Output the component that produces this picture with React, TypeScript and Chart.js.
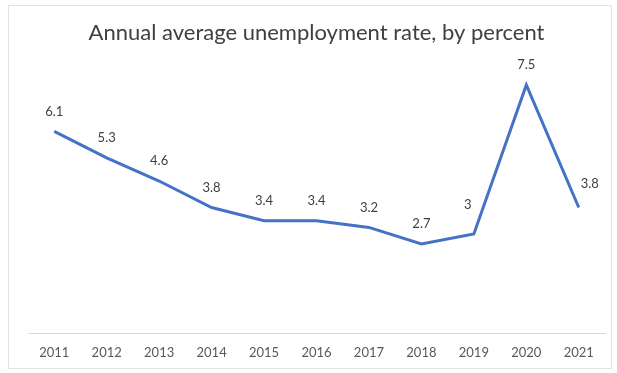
import React, { useEffect, useRef } from "react";
import { Chart, registerables } from "chart.js";

Chart.register(...registerables);

const years = ["2011", "2012", "2013", "2014", "2015", "2016", "2017", "2018", "2019", "2020", "2021"];
const rates = [6.1, 5.3, 4.6, 3.8, 3.4, 3.4, 3.2, 2.7, 3, 7.5, 3.8];
const titleText = "Annual average unemployment rate, by percent";

const FONT = "Lato, 'Open Sans', sans-serif";

const frameAndLabels = {
  id: "frameAndLabels",
  beforeDraw(chart: any) {
    const ctx = chart.ctx;
    ctx.save();
    ctx.fillStyle = "#ffffff";
    ctx.fillRect(0, 0, chart.width, chart.height);
    ctx.strokeStyle = "#e3e3e3";
    ctx.lineWidth = 1;
    ctx.strokeRect(8.5, 5.5, chart.width - 14, chart.height - 10);
    ctx.restore();
  },
  afterDatasetsDraw(chart: any) {
    const ctx = chart.ctx;
    const meta = chart.getDatasetMeta(0);
    const data = chart.data.datasets[0].data as number[];
    ctx.save();
    ctx.font = `13px ${FONT}`;
    ctx.fillStyle = "#404040";
    ctx.textAlign = "center";
    ctx.textBaseline = "middle";
    meta.data.forEach((pt: any, i: number) => {
      let dx = 0;
      let dy = -20;
      if (i === data.length - 1) { dx = 11; dy = -24; }
      if (i === 8) { dx = -6; dy = -29; }
      ctx.fillText(String(data[i]), pt.x + dx, pt.y + dy);
    });
    ctx.restore();
  },
};

export default function App() {
  const ref = useRef<HTMLCanvasElement | null>(null);
  useEffect(() => {
    if (!ref.current) return;
    const chart = new Chart(ref.current, {
      type: "line",
      data: {
        labels: years,
        datasets: [
          {
            data: rates,
            borderColor: "#4472C4",
            borderWidth: 3,
            pointRadius: 0,
            tension: 0,
            fill: false,
          },
        ],
      },
      options: {
        animation: false,
        responsive: false,
        maintainAspectRatio: false,
        layout: { padding: { left: 28, right: 12, top: 20, bottom: 0 } },
        plugins: {
          legend: { display: false },
          tooltip: { enabled: false },
          title: {
            display: true,
            text: titleText,
            color: "#404040",
            font: { family: FONT, size: 22, weight: "normal" },
            padding: { top: 0, bottom: 22 },
          },
        },
        scales: {
          x: {
            offset: true,
            grid: { display: false, drawTicks: false },
            border: { display: true, color: "#d9d9d9", width: 1 },
            ticks: { color: "#595959", font: { family: FONT, size: 13 }, padding: 12, maxRotation: 0 },
          },
          y: {
            display: false,
            min: 0,
            max: 8,
          },
        },
      },
      plugins: [frameAndLabels],
    });
    return () => chart.destroy();
  }, []);
  return (
    <div style={{ position: "fixed", left: 0, top: 0, width: 617, height: 373, background: "#fff" }}>
      <canvas ref={ref} width={617} height={373} style={{ display: "block", width: 617, height: 373 }} />
    </div>
  );
}
